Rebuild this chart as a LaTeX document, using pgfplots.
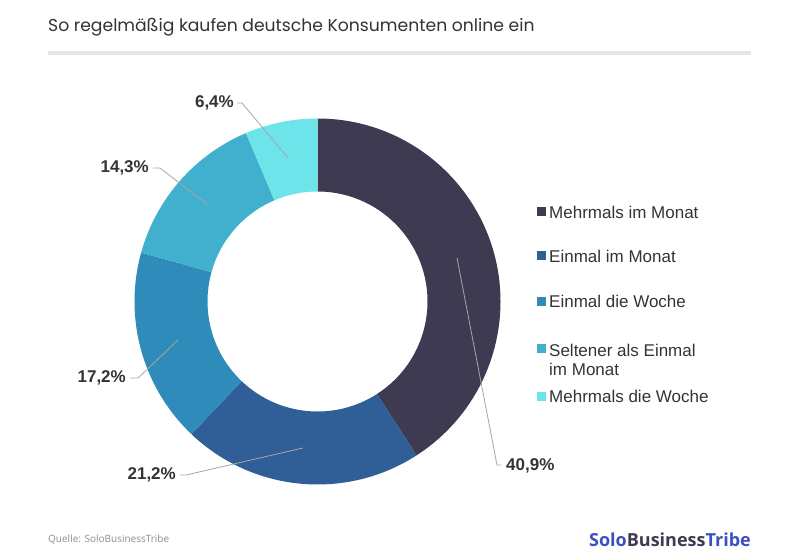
\documentclass[border=0pt]{standalone}
\usepackage{fontspec}
\setmainfont{Liberation Sans}
\newfontfamily\poppins{Poppins}
\newfontfamily\opensans{Open Sans}
\usepackage{pgfplots}
\usepackage{pgfplotstable}
\pgfplotsset{compat=1.18}
\definecolor{c1}{HTML}{3E3A52}
\definecolor{c2}{HTML}{2F5F96}
\definecolor{c3}{HTML}{2E8BBA}
\definecolor{c4}{HTML}{41B0CE}
\definecolor{c5}{HTML}{6CE4E9}
\definecolor{txt}{HTML}{333333}
\definecolor{lead}{HTML}{A6A6A6}
\definecolor{logoblue}{HTML}{3C50C3}
\pgfplotstableread{
share
40.9
21.2
17.2
14.3
6.4
}\shares
\begin{document}
\begin{tikzpicture}
\pgfmathsetmacro\aO{90}
\pgfplotstablegetelem{0}{share}\of\shares \pgfmathsetmacro\aA{\aO-3.6*\pgfplotsretval}
\pgfplotstablegetelem{1}{share}\of\shares \pgfmathsetmacro\aB{\aA-3.6*\pgfplotsretval}
\pgfplotstablegetelem{2}{share}\of\shares \pgfmathsetmacro\aC{\aB-3.6*\pgfplotsretval}
\pgfplotstablegetelem{3}{share}\of\shares \pgfmathsetmacro\aD{\aC-3.6*\pgfplotsretval}
\pgfplotstablegetelem{4}{share}\of\shares \pgfmathsetmacro\aE{\aD-3.6*\pgfplotsretval}
\def\Ro{183bp}\def\Ri{110bp}
\begin{axis}[
  width=800bp, height=560bp, scale only axis,
  xmin=0, xmax=800, ymin=0, ymax=560, y dir=reverse,
  hide axis, clip=false,
]
\path (axis cs:0,0) (axis cs:800,560);
% donut wedges
\fill[c1, shift={(axis cs:317.5,301.5)}] (\aO:\Ro) arc[start angle=\aO, end angle=\aA, radius=\Ro] -- (\aA:\Ri) arc[start angle=\aA, end angle=\aO, radius=\Ri] -- cycle;
\fill[c2, shift={(axis cs:317.5,301.5)}] (\aA:\Ro) arc[start angle=\aA, end angle=\aB, radius=\Ro] -- (\aB:\Ri) arc[start angle=\aB, end angle=\aA, radius=\Ri] -- cycle;
\fill[c3, shift={(axis cs:317.5,301.5)}] (\aB:\Ro) arc[start angle=\aB, end angle=\aC, radius=\Ro] -- (\aC:\Ri) arc[start angle=\aC, end angle=\aB, radius=\Ri] -- cycle;
\fill[c4, shift={(axis cs:317.5,301.5)}] (\aC:\Ro) arc[start angle=\aC, end angle=\aD, radius=\Ro] -- (\aD:\Ri) arc[start angle=\aD, end angle=\aC, radius=\Ri] -- cycle;
\fill[c5, shift={(axis cs:317.5,301.5)}] (\aD:\Ro) arc[start angle=\aD, end angle=\aE, radius=\Ro] -- (\aE:\Ri) arc[start angle=\aE, end angle=\aD, radius=\Ri] -- cycle;
% leader lines
\draw[lead, line width=0.8bp] (axis cs:237,103) -- (axis cs:242,103) -- (axis cs:288,158);
\draw[lead, line width=0.8bp] (axis cs:153,168) -- (axis cs:160,168) -- (axis cs:208,205);
\draw[lead, line width=0.8bp] (axis cs:130,378) -- (axis cs:138,378) -- (axis cs:178,340);
\draw[lead, line width=0.8bp] (axis cs:180,475) -- (axis cs:186,475) -- (axis cs:303,448);
\draw[lead, line width=0.8bp] (axis cs:501,465) -- (axis cs:497,465) -- (axis cs:457,258);
% value labels
\tikzset{vl/.style={font=\bfseries\fontsize{17bp}{20bp}\selectfont, text=txt, inner sep=0pt}}
\node[vl, anchor=east] at (axis cs:234,103) {6,4\%};
\node[vl, anchor=east] at (axis cs:149,168) {14,3\%};
\node[vl, anchor=east] at (axis cs:126,378) {17,2\%};
\node[vl, anchor=east] at (axis cs:176,475) {21,2\%};
\node[vl, anchor=west] at (axis cs:506,466) {40,9\%};
% legend
\tikzset{lg/.style={font=\fontsize{17bp}{20bp}\selectfont, text=txt, inner sep=0pt, anchor=west}}
\fill[c1] (axis cs:536.5,207) rectangle (axis cs:545.5,216);
\node[lg] at (axis cs:549,212) {Mehrmals im Monat};
\fill[c2] (axis cs:536.5,251.5) rectangle (axis cs:545.5,260.5);
\node[lg] at (axis cs:549,256) {Einmal im Monat};
\fill[c3] (axis cs:536.5,296.5) rectangle (axis cs:545.5,305.5);
\node[lg] at (axis cs:549,301) {Einmal die Woche};
\fill[c4] (axis cs:536.5,344) rectangle (axis cs:545.5,353);
\node[lg] at (axis cs:549,350) {Seltener als Einmal};
\node[lg] at (axis cs:549,369) {im Monat};
\fill[c5] (axis cs:536.5,391.5) rectangle (axis cs:545.5,400.5);
\node[lg] at (axis cs:549,396) {Mehrmals die Woche};
% title and bar
\node[anchor=west, inner sep=0pt, font=\poppins\fontsize{17.2bp}{20bp}\selectfont, text=txt] at (axis cs:48,27) {So regelmäßig kaufen deutsche Konsumenten online ein};
\fill[black!10] (axis cs:48,51) rectangle (axis cs:751,55);
% footer
\node[anchor=west, inner sep=0pt, font=\opensans\fontsize{10bp}{12bp}\selectfont, text=black!45] at (axis cs:48,540) {Quelle: SoloBusinessTribe};
\node[anchor=east, inner sep=0pt, font=\opensans\bfseries\fontsize{18bp}{21bp}\selectfont] at (axis cs:751,540) {\textcolor{logoblue}{Solo}\textcolor{c1}{Business}\textcolor{logoblue}{Tribe}};
\end{axis}
\end{tikzpicture}
\end{document}
